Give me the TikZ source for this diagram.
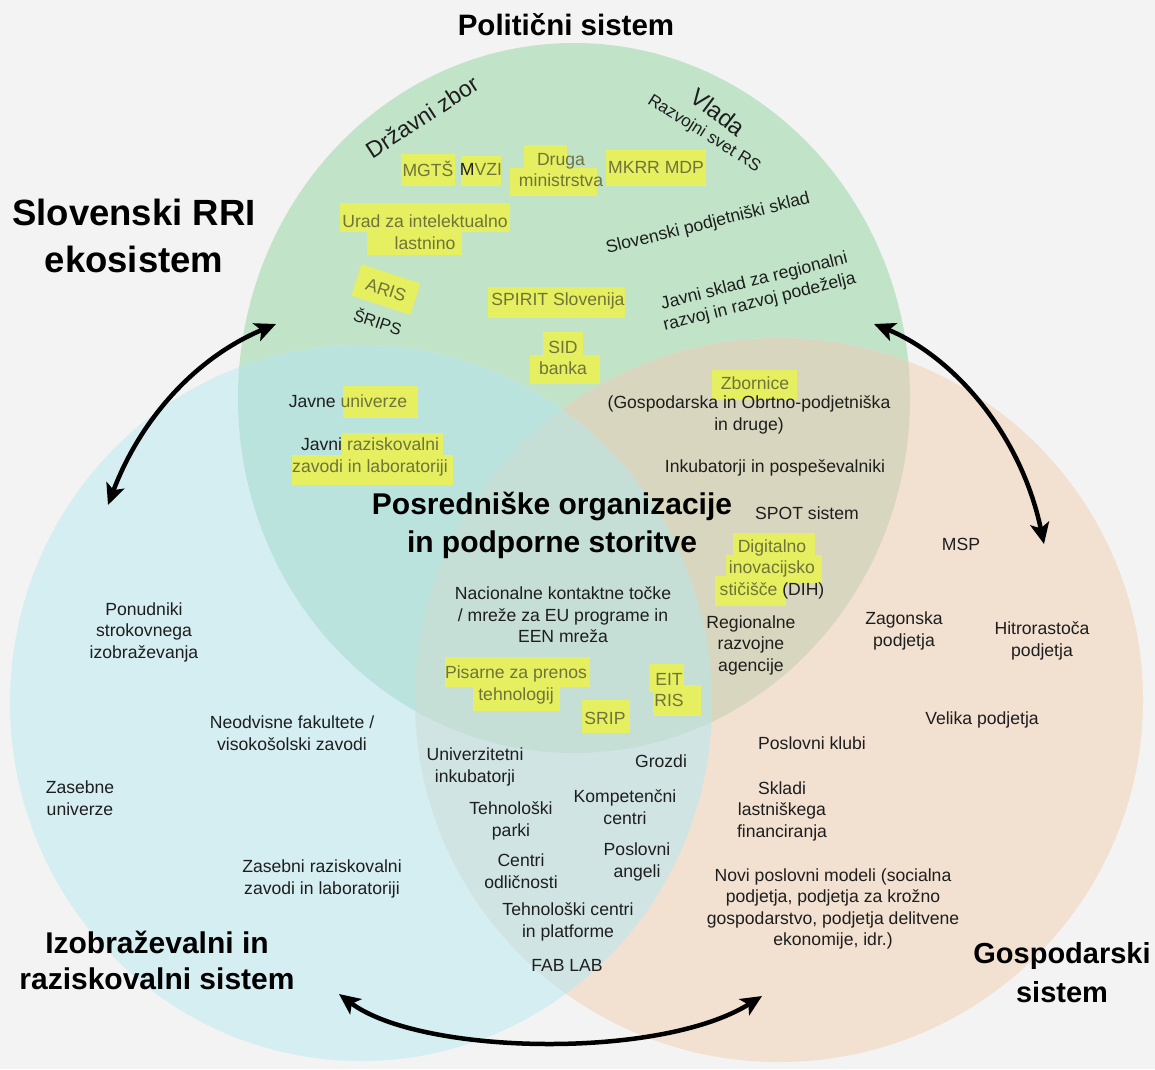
\documentclass[tikz,border=0pt]{standalone}
\usepackage{fontspec}
\setmainfont{Liberation Sans}
\usetikzlibrary{arrows.meta}
\definecolor{bgc}{RGB}{243,243,243}
\definecolor{cG}{RGB}{193,228,200}
\definecolor{cB}{RGB}{213,238,242}
\definecolor{cO}{RGB}{242,224,208}
\definecolor{cGB}{RGB}{186,227,222}
\definecolor{cGO}{RGB}{216,214,190}
\definecolor{cBO}{RGB}{208,228,228}
\definecolor{cGBO}{RGB}{197,223,215}
\definecolor{hly}{RGB}{229,239,96}
\definecolor{hlc}{RGB}{112,116,58}
\definecolor{txtc}{RGB}{30,30,30}
\tikzset{
  tx/.style={align=center, inner sep=0pt, text=txtc, font=\fontsize{17.6}{21.5}\selectfont},
  hx/.style={tx, text=hlc},
  ttl/.style={align=center, inner sep=0pt, text=black},
  hlbox/.style={fill=hly},
  arr/.style={line width=4.5pt, black,
    {Stealth[length=21pt,width=19pt,inset=5pt]}-{Stealth[length=21pt,width=19pt,inset=5pt]}},
}
\begin{document}
\begin{tikzpicture}[x=1pt,y=-1pt]
\useasboundingbox (0,0) rectangle (1155,1069);
\fill[bgc] (0,0) rectangle (1155,1069);
% circles
\fill[cG] (574,398) ellipse [x radius=336pt, y radius=355pt];
\fill[cB] (361,703) ellipse [x radius=351pt, y radius=358pt];
\fill[cO] (779,700) ellipse [x radius=364pt, y radius=362pt];
\begin{scope}
  \clip (574,398) ellipse [x radius=336pt, y radius=355pt];
  \fill[cGB] (361,703) ellipse [x radius=351pt, y radius=358pt];
  \fill[cGO] (779,700) ellipse [x radius=364pt, y radius=362pt];
\end{scope}
\begin{scope}
  \clip (361,703) ellipse [x radius=351pt, y radius=358pt];
  \fill[cBO] (779,700) ellipse [x radius=364pt, y radius=362pt];
  \clip (574,398) ellipse [x radius=336pt, y radius=355pt];
  \fill[cGBO] (779,700) ellipse [x radius=364pt, y radius=362pt];
\end{scope}
% highlights
\fill[hlbox] (401,154) rectangle (455,186);
\fill[hlbox] (461,156) rectangle (501,186);
\fill[hlbox] (524,145) rectangle (567,170);
\fill[hlbox] (510,168) rectangle (597,196);
\fill[hlbox] (606,150) rectangle (706,186);
\fill[hlbox] (340,203) rectangle (510,232);
\fill[hlbox] (367,226) rectangle (462,255);
\fill[hlbox, rotate around={-18:(386,289)}] (355,273) rectangle (417,306);
\fill[hlbox] (488,287) rectangle (625,318);
\fill[hlbox] (543,332) rectangle (583,360);
\fill[hlbox] (530,355) rectangle (600,384);
\fill[hlbox] (343,386) rectangle (418,418);
\fill[hlbox] (342,433) rectangle (443,462);
\fill[hlbox] (292,455) rectangle (453,485);
\fill[hlbox] (712,370) rectangle (797,400);
\fill[hlbox] (733,533) rectangle (815,562);
\fill[hlbox] (726,555) rectangle (822,583);
\fill[hlbox] (715,576) rectangle (786,606);
\fill[hlbox] (445,657) rectangle (590,687);
\fill[hlbox] (473,680) rectangle (560,711);
\fill[hlbox] (582,700) rectangle (630,733);
\fill[hlbox] (649,664) rectangle (684,692);
\fill[hlbox] (653,685) rectangle (701,716);
% titles
\node[ttl, font=\bfseries\fontsize{29.5}{34}\selectfont] (polsys) at (566,25) {Politični sistem};
\node[ttl, font=\bfseries\fontsize{36.5}{47}\selectfont] (rri) at (134,236) {Slovenski RRI\\ekosistem};
\node[ttl, font=\bfseries\fontsize{30}{36}\selectfont] (izo) at (157,960) {Izobraževalni in\\raziskovalni sistem};
\node[ttl, font=\bfseries\fontsize{29}{39}\selectfont] (gos) at (1062,973) {Gospodarski\\sistem};
\node[ttl, font=\bfseries\fontsize{30}{38}\selectfont] (pos) at (552,525) {Posredniške organizacije\\in podporne storitve};
% political
\node[tx, rotate=33, font=\fontsize{23}{26}\selectfont] (dz) at (422,117) {Državni zbor};
\node[tx, rotate=-37, font=\fontsize{24}{26}\selectfont] (vlada) at (718,112) {Vlada};
\node[tx, rotate=-32, font=\fontsize{17}{20}\selectfont] (rsrs) at (704,134) {Razvojni svet RS};
\node[hx] (mgts) at (428,169) {MGTŠ};
\node[hx] (mvzi) at (481,169) {{\color{txtc}M}VZI};
\node[hx] (druga) at (561,170) {Druga\\ministrstva};
\node[hx] (mkrr) at (656,167) {MKRR MDP};
\node[hx] (urad) at (425,232) {Urad za intelektualno\\lastnino};
\node[tx, rotate=14] (sps) at (708,224) {Slovenski podjetniški sklad};
\node[hx, rotate=-18] (aris) at (386,290) {ARIS};
\node[tx, rotate=-18, font=\fontsize{16.5}{20}\selectfont] (srips) at (378,321) {ŠRIPS};
\node[hx] (spirit) at (558,301) {SPIRIT Slovenija};
\node[tx, rotate=14] (jsrr) at (757,292) {Javni sklad za regionalni\\razvoj in razvoj podeželja};
\node[hx] (sid) at (563,358) {SID\\banka};
% green-blue
\node[hx] (jun) at (348,401) {{\color{txtc}Javne} univerze};
\node[hx] (jrz) at (370,457) {{\color{txtc}Javni} raziskovalni\\zavodi in laboratoriji};
% green-orange
\node[hx] (zbor) at (755,383) {Zbornice};
\node[tx] (gosp) at (749,415) {(Gospodarska in Obrtno-podjetniška\\in druge)};
\node[tx] (inku) at (775,468) {Inkubatorji in pospeševalniki};
\node[tx] (spot) at (807,513) {SPOT sistem};
\node[hx] (dih) at (772,569) {Digitalno\\inovacijsko\\stičišče {\color{txtc}(DIH)}};
\node[tx] (rra) at (751,645) {Regionalne\\razvojne\\agencije};
% center
\node[tx] (nkt) at (563,615) {Nacionalne kontaktne točke\\/ mreže za EU programe in\\EEN mreža};
\node[hx] (pis) at (516,685) {Pisarne za prenos\\tehnologij};
\node[hx] (srip) at (605,718) {SRIP};
\node[hx] (eit) at (669,690) {EIT\\RIS};
% blue-orange
\node[tx] (uink) at (475,767) {Univerzitetni\\inkubatorji};
\node[tx] (groz) at (661,761) {Grozdi};
\node[tx] (tpar) at (511,821) {Tehnološki\\parki};
\node[tx] (komp) at (625,807) {Kompetenčni\\centri};
\node[tx] (codl) at (521,871) {Centri\\odličnosti};
\node[tx] (pang) at (637,862) {Poslovni\\angeli};
\node[tx] (tcen) at (568,922) {Tehnološki centri\\in platforme};
\node[tx] (fab) at (567,965) {FAB LAB};
% blue
\node[tx] (pon) at (144,632) {Ponudniki\\strokovnega\\izobraževanja};
\node[tx] (neo) at (292,733) {Neodvisne fakultete /\\visokošolski zavodi};
\node[tx] (zun) at (80,798) {Zasebne\\univerze};
\node[tx] (zrz) at (322,879) {Zasebni raziskovalni\\zavodi in laboratoriji};
% orange
\node[tx] (msp) at (961,544) {MSP};
\node[tx] (zag) at (904,631) {Zagonska\\podjetja};
\node[tx] (hit) at (1042,641) {Hitrorastoča\\podjetja};
\node[tx] (vel) at (982,720) {Velika podjetja};
\node[tx] (pkl) at (812,743) {Poslovni klubi};
\node[tx] (skl) at (782,811) {Skladi\\lastniškega\\financiranja};
\node[tx] (novi) at (833,909) {Novi poslovni modeli (socialna\\podjetja, podjetja za krožno\\gospodarstvo, podjetja delitvene\\ekonomije, idr.)};
% arrows
\coordinate (la1) at (108,505);
\coordinate (la2) at (276,324);
\coordinate (ra1) at (874,324);
\coordinate (ra2) at (1044,544);
\coordinate (ba1) at (339,994);
\coordinate (ba2) at (762,996);
\draw[arr] (la1) .. controls (140,420) and (195,358) .. (la2);
\draw[arr] (ra1) .. controls (950,355) and (1020,430) .. (ra2);
\draw[arr] (ba1) .. controls (420,1055) and (660,1060) .. (ba2);
\end{tikzpicture}
\end{document}
